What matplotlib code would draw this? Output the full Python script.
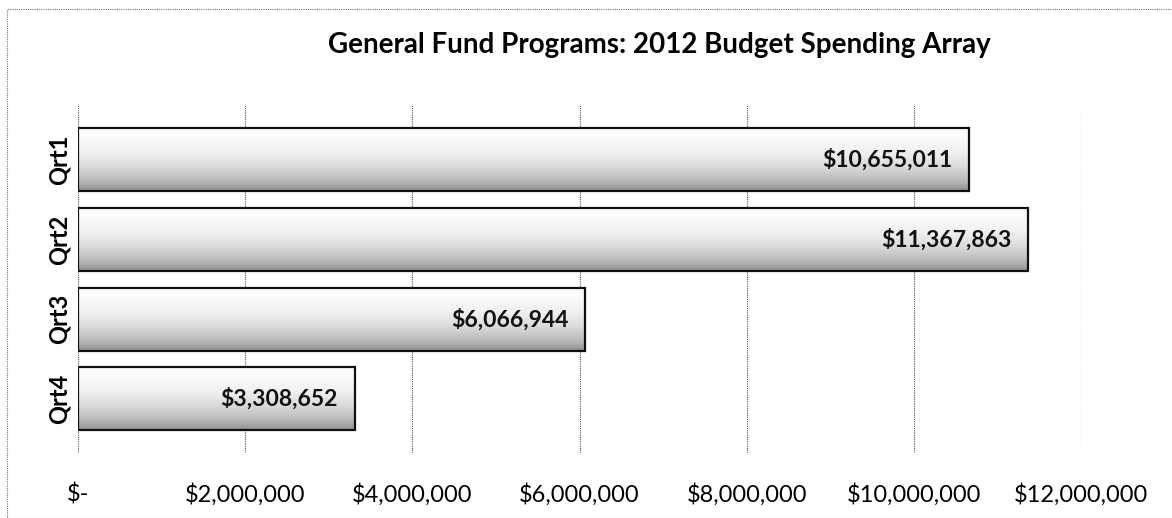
import numpy as np
import matplotlib.pyplot as plt
from matplotlib.patches import Rectangle
from matplotlib.ticker import FuncFormatter

quarters = ["Qrt1", "Qrt2", "Qrt3", "Qrt4"]
spending = [10655011, 11367863, 6066944, 3308652]
x_ticks = [0, 2000000, 4000000, 6000000, 8000000, 10000000, 12000000]

plt.rcParams['font.family'] = ['Lato', 'DejaVu Sans']

fig = plt.figure(figsize=(11.72, 5.18), dpi=100)
ax = fig.add_axes([78 / 1172, 1 - 453 / 518, (1081 - 78) / 1172, (453 - 105) / 518])

# vertical gradient: white at top, grey toward the bottom
grad = (np.linspace(0, 1, 100) ** 1.6).reshape(-1, 1)
bar_h = 0.79
for i, val in enumerate(spending):
    rect = Rectangle((0, i - bar_h / 2), val, bar_h, facecolor='none',
                     edgecolor='#111111', linewidth=1.6, zorder=3)
    ax.add_patch(rect)
    im = ax.imshow(grad, extent=(0, val, i + bar_h / 2, i - bar_h / 2),
                   cmap='Greys', vmin=-0.05, vmax=2.0, aspect='auto',
                   origin='upper', zorder=2)
    im.set_clip_path(rect)
    ax.annotate(f"${val:,.0f}", xy=(val, i), xytext=(-12, 0),
                textcoords='offset points', ha='right', va='center',
                fontsize=16.5, fontweight='bold', color='#111111', zorder=4)

ax.set_xlim(0, 12000000)
ax.set_ylim(3 + 0.68, -0.69)
ax.set_xticks(x_ticks)
ax.xaxis.set_major_formatter(FuncFormatter(lambda v, p: "$-" if v == 0 else f"${v:,.0f}"))
ax.set_yticks(range(len(quarters)))
ax.set_yticklabels(quarters, rotation=90, va='center', fontsize=17, fontweight='bold')
ax.tick_params(axis='x', length=0, pad=22, labelsize=17)
ax.tick_params(axis='y', length=0, pad=5)
ax.grid(axis='x', color='#555555', linestyle=(0, (1, 1)), linewidth=0.8, zorder=0)
for s in ax.spines.values():
    s.set_visible(False)

fig.text(0.563, 1 - 45 / 518, "General Fund Programs: 2012 Budget Spending Array",
         ha='center', va='center', fontsize=20, fontweight='bold')

fig.patches.append(Rectangle((7 / 1172, 0), 1, 1 - 9 / 518, transform=fig.transFigure,
                             fill=False, edgecolor='#777777', linewidth=0.8,
                             linestyle=(0, (1, 1))))

fig.savefig("out.png", dpi=100)
